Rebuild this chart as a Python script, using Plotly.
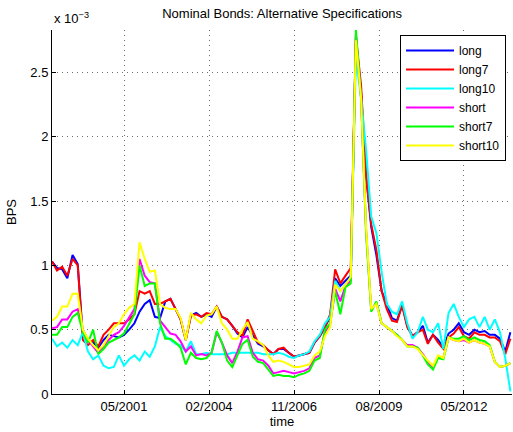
import pandas as pd
import plotly.graph_objects as go

# bi-monthly observations, Jan 1999 .. Nov 2013 (values in units of 1e-3)
dates = pd.date_range("1999-01-01", periods=90, freq="2MS")

long_ = [1.03, 0.98, 0.97, 0.90, 1.08, 1.01, 0.45, 0.41, 0.40, 0.36, 0.42, 0.46, 0.45, 0.44,
         0.46, 0.50, 0.55, 0.64, 0.70, 0.73, 0.60, 0.59, 0.72, 0.74, 0.66, 0.58, 0.42, 0.61, 0.63, 0.60, 0.62, 0.60, 0.68,
         0.60, 0.58, 0.53, 0.47, 0.44, 0.52, 0.45, 0.39, 0.37, 0.34, 0.31, 0.35, 0.35, 0.32, 0.29,
         0.30, 0.31, 0.32, 0.40, 0.45, 0.52, 0.60, 0.90, 0.84, 0.88, 0.92, 2.75, 2.35, 1.70, 1.30, 1.08, 0.80, 0.70,
         0.59, 0.57, 0.69, 0.53, 0.45, 0.48, 0.53, 0.40, 0.46, 0.42, 0.36, 0.47, 0.50, 0.55, 0.48, 0.46, 0.50, 0.48,
         0.49, 0.46, 0.46, 0.43, 0.33, 0.48]
long7 = [1.03, 0.96, 0.99, 0.92, 1.05, 1.00, 0.42, 0.38, 0.42, 0.37, 0.46, 0.50, 0.55, 0.55,
         0.55, 0.58, 0.62, 0.80, 0.78, 0.80, 0.70, 0.70, 0.72, 0.74, 0.66, 0.58, 0.42, 0.61, 0.62, 0.60, 0.63, 0.62, 0.68,
         0.60, 0.58, 0.53, 0.48, 0.45, 0.58, 0.49, 0.40, 0.38, 0.34, 0.31, 0.35, 0.36, 0.32, 0.29,
         0.30, 0.31, 0.32, 0.40, 0.45, 0.52, 0.62, 0.97, 0.86, 0.92, 0.98, 2.78, 2.40, 1.70, 1.32, 1.12, 0.80, 0.66,
         0.57, 0.56, 0.69, 0.52, 0.45, 0.48, 0.50, 0.39, 0.46, 0.40, 0.35, 0.44, 0.47, 0.52, 0.45, 0.43, 0.48, 0.46,
         0.46, 0.44, 0.44, 0.41, 0.31, 0.43]
long10 = [0.43, 0.37, 0.40, 0.36, 0.42, 0.38, 0.48, 0.33, 0.27, 0.30, 0.22, 0.20, 0.21, 0.30,
          0.22, 0.27, 0.30, 0.26, 0.33, 0.29, 0.37, 0.52, 0.45, 0.42, 0.39, 0.38, 0.33, 0.41, 0.31, 0.31, 0.32, 0.31, 0.31,
          0.31, 0.31, 0.32, 0.32, 0.32, 0.32, 0.32, 0.32, 0.31, 0.31, 0.31, 0.32, 0.31, 0.29, 0.28,
          0.30, 0.31, 0.33, 0.41, 0.46, 0.55, 0.60, 0.88, 0.80, 0.85, 0.90, 2.62, 2.30, 1.90, 1.38, 1.25, 0.95, 0.70,
          0.64, 0.62, 0.72, 0.55, 0.43, 0.48, 0.60, 0.50, 0.48, 0.55, 0.35, 0.63, 0.70, 0.60, 0.52, 0.58, 0.60, 0.52,
          0.60, 0.50, 0.58, 0.48, 0.28, 0.02]
short = [0.51, 0.52, 0.58, 0.58, 0.64, 0.66, 0.50, 0.42, 0.37, 0.32, 0.37, 0.42, 0.46, 0.48, 0.53, 0.60, 0.66,
         1.05, 0.92, 0.87, 0.86, 0.57, 0.52, 0.47, 0.46, 0.41, 0.33, 0.37, 0.30, 0.31, 0.30, 0.32, 0.48,
         0.40, 0.30, 0.24, 0.33, 0.44, 0.45, 0.32, 0.27, 0.26, 0.22, 0.16, 0.17, 0.18, 0.17, 0.16,
         0.17, 0.18, 0.20, 0.28, 0.30, 0.48, 0.54, 0.82, 0.72, 0.84, 0.88, 2.80, 2.30, 1.28, 0.65, 0.71, 0.55, 0.52,
         0.49, 0.46, 0.42, 0.38, 0.38, 0.36, 0.31, 0.25, 0.21, 0.29, 0.28, 0.44, 0.42, 0.41, 0.42, 0.40, 0.42, 0.40,
         0.39, 0.37, 0.25, 0.21, 0.22, 0.24]
short7 = [0.46, 0.46, 0.52, 0.52, 0.60, 0.63, 0.48, 0.40, 0.50, 0.31, 0.35, 0.40, 0.42, 0.44, 0.47, 0.55, 0.62,
          1.00, 0.84, 0.86, 0.86, 0.55, 0.43, 0.43, 0.40, 0.36, 0.23, 0.32, 0.28, 0.27, 0.28, 0.32, 0.49,
          0.40, 0.26, 0.21, 0.30, 0.39, 0.42, 0.29, 0.25, 0.24, 0.19, 0.14, 0.15, 0.14, 0.14, 0.13,
          0.15, 0.16, 0.18, 0.26, 0.28, 0.50, 0.55, 0.80, 0.62, 0.83, 0.86, 2.83, 2.30, 1.25, 0.64, 0.72, 0.55, 0.52,
          0.49, 0.46, 0.42, 0.37, 0.37, 0.36, 0.30, 0.23, 0.19, 0.28, 0.27, 0.44, 0.43, 0.43, 0.45, 0.42, 0.44, 0.42,
          0.41, 0.38, 0.25, 0.21, 0.22, 0.24]
short10 = [0.57, 0.60, 0.68, 0.68, 0.78, 0.78, 0.50, 0.43, 0.38, 0.34, 0.38, 0.45, 0.52, 0.55, 0.62, 0.67, 0.70,
           1.18, 1.05, 0.95, 0.96, 0.70, 0.67, 0.66, 0.66, 0.59, 0.42, 0.63, 0.58, 0.55, 0.61, 0.62, 0.68,
           0.55, 0.50, 0.43, 0.43, 0.50, 0.56, 0.43, 0.41, 0.38, 0.30, 0.25, 0.26, 0.25, 0.23, 0.21,
           0.21, 0.22, 0.23, 0.30, 0.33, 0.45, 0.52, 0.85, 0.80, 0.85, 0.91, 2.75, 2.30, 1.30, 0.66, 0.70, 0.55, 0.52,
           0.49, 0.45, 0.42, 0.37, 0.37, 0.35, 0.30, 0.26, 0.22, 0.30, 0.28, 0.44, 0.42, 0.41, 0.43, 0.40, 0.42, 0.40,
           0.39, 0.37, 0.25, 0.21, 0.22, 0.24]

series_names = ["long", "long7", "long10", "short", "short7", "short10"]
series_values = [long_, long7, long10, short, short7, short10]
series_colors = ["#0000ff", "#ff0000", "#00ffff", "#ff00ff", "#00ff00", "#ffff00"]

x_tick_vals = ["2001-05-01", "2004-02-01", "2006-11-01", "2009-08-01", "2012-05-01"]
x_tick_text = ["05/2001", "02/2004", "11/2006", "08/2009", "05/2012"]
y_tick_vals = [0, 0.5, 1, 1.5, 2, 2.5]
y_tick_text = ["0", "0.5", "1", "1.5", "2", "2.5"]

fig = go.Figure()
for name, vals, col in zip(series_names, series_values, series_colors):
    fig.add_trace(go.Scatter(x=dates, y=vals, mode="lines", name=name,
                             line=dict(color=col, width=2)))

font = "Liberation Sans, Arial, Helvetica, sans-serif"
fig.update_layout(
    width=513, height=432,
    margin=dict(l=52, r=1, t=30, b=38),
    paper_bgcolor="white", plot_bgcolor="white",
    font=dict(family=font, size=13, color="black"),
    title=dict(text="Nominal Bonds: Alternative Specifications", x=0.55, xanchor="center",
               y=1 - 13 / 432, yanchor="middle", font=dict(size=13)),
    showlegend=True,
    legend=dict(x=0.987, xanchor="right", y=0.986, yanchor="top",
                bgcolor="white", bordercolor="black", borderwidth=1,
                font=dict(size=12), tracegroupgap=0, itemwidth=48),
    xaxis=dict(range=["1999-01-01", "2013-11-20"], tickvals=x_tick_vals, ticktext=x_tick_text,
               showgrid=True, gridcolor="#707070", griddash="1px,4px", gridwidth=1,
               showline=True, linecolor="black", linewidth=1, ticks="inside", ticklen=4,
               tickcolor="black", zeroline=False,
               title=dict(text="time", standoff=4, font=dict(size=13))),
    yaxis=dict(range=[0, 2.83], tickvals=y_tick_vals, ticktext=y_tick_text,
               showgrid=True, gridcolor="#707070", griddash="1px,4px", gridwidth=1,
               showline=True, linecolor="black", linewidth=1, ticks="inside", ticklen=4,
               tickcolor="black", zeroline=False,
               title=dict(text="BPS", standoff=10, font=dict(size=13))),
    annotations=[dict(text="x 10<sup>−3</sup>", xref="paper", yref="paper", x=0, y=1,
                      xanchor="left", yanchor="bottom", showarrow=False, yshift=2,
                      font=dict(size=13))],
)

fig.write_html("out.html")
